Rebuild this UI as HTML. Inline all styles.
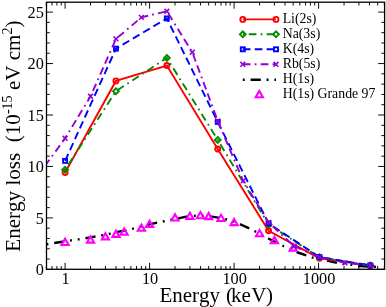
<!DOCTYPE html><html><head><meta charset="utf-8"><style>html,body{margin:0;padding:0;background:#fff}svg{will-change:transform;opacity:.999}text{font-kerning:none}body{width:386px;height:307px;overflow:hidden}</style></head><body><svg width="386" height="307" viewBox="0 0 386 307" style="display:block;font-family:'Liberation Serif',serif">
<rect width="386" height="307" fill="#fff"/>
<defs><clipPath id="c"><rect x="46.5" y="2.2" width="338.1" height="267.1"/></clipPath></defs>
<path d="M46.35 269.30v-3.3M46.35 2.20v3.3M52.01 269.30v-3.3M52.01 2.20v3.3M56.91 269.30v-3.3M56.91 2.20v3.3M61.23 269.30v-3.3M61.23 2.20v3.3M65.10 269.30v-6.5M65.10 2.20v6.5M90.54 269.30v-3.3M90.54 2.20v3.3M105.42 269.30v-3.3M105.42 2.20v3.3M115.97 269.30v-3.3M115.97 2.20v3.3M124.16 269.30v-3.3M124.16 2.20v3.3M130.85 269.30v-3.3M130.85 2.20v3.3M136.51 269.30v-3.3M136.51 2.20v3.3M141.41 269.30v-3.3M141.41 2.20v3.3M145.73 269.30v-3.3M145.73 2.20v3.3M149.60 269.30v-6.5M149.60 2.20v6.5M175.04 269.30v-3.3M175.04 2.20v3.3M189.92 269.30v-3.3M189.92 2.20v3.3M200.47 269.30v-3.3M200.47 2.20v3.3M208.66 269.30v-3.3M208.66 2.20v3.3M215.35 269.30v-3.3M215.35 2.20v3.3M221.01 269.30v-3.3M221.01 2.20v3.3M225.91 269.30v-3.3M225.91 2.20v3.3M230.23 269.30v-3.3M230.23 2.20v3.3M234.10 269.30v-6.5M234.10 2.20v6.5M259.54 269.30v-3.3M259.54 2.20v3.3M274.42 269.30v-3.3M274.42 2.20v3.3M284.97 269.30v-3.3M284.97 2.20v3.3M293.16 269.30v-3.3M293.16 2.20v3.3M299.85 269.30v-3.3M299.85 2.20v3.3M305.51 269.30v-3.3M305.51 2.20v3.3M310.41 269.30v-3.3M310.41 2.20v3.3M314.73 269.30v-3.3M314.73 2.20v3.3M318.60 269.30v-6.5M318.60 2.20v6.5M344.04 269.30v-3.3M344.04 2.20v3.3M358.92 269.30v-3.3M358.92 2.20v3.3M369.47 269.30v-3.3M369.47 2.20v3.3M377.66 269.30v-3.3M377.66 2.20v3.3M384.35 269.30v-3.3M384.35 2.20v3.3M46.50 269.35h6.5M384.65 269.35h-6.5M46.50 259.06h3.3M384.65 259.06h-3.3M46.50 248.77h3.3M384.65 248.77h-3.3M46.50 238.48h3.3M384.65 238.48h-3.3M46.50 228.19h3.3M384.65 228.19h-3.3M46.50 217.90h6.5M384.65 217.90h-6.5M46.50 207.61h3.3M384.65 207.61h-3.3M46.50 197.32h3.3M384.65 197.32h-3.3M46.50 187.03h3.3M384.65 187.03h-3.3M46.50 176.74h3.3M384.65 176.74h-3.3M46.50 166.45h6.5M384.65 166.45h-6.5M46.50 156.16h3.3M384.65 156.16h-3.3M46.50 145.87h3.3M384.65 145.87h-3.3M46.50 135.58h3.3M384.65 135.58h-3.3M46.50 125.29h3.3M384.65 125.29h-3.3M46.50 115.00h6.5M384.65 115.00h-6.5M46.50 104.71h3.3M384.65 104.71h-3.3M46.50 94.42h3.3M384.65 94.42h-3.3M46.50 84.13h3.3M384.65 84.13h-3.3M46.50 73.84h3.3M384.65 73.84h-3.3M46.50 63.55h6.5M384.65 63.55h-6.5M46.50 53.26h3.3M384.65 53.26h-3.3M46.50 42.97h3.3M384.65 42.97h-3.3M46.50 32.68h3.3M384.65 32.68h-3.3M46.50 22.39h3.3M384.65 22.39h-3.3M46.50 12.10h6.5M384.65 12.10h-6.5" stroke="#000" stroke-width="0.95" fill="none"/>
<g clip-path="url(#c)">
<path d="M46.50 244.31 L54.30 242.98 L65.10 241.44 L70.99 240.41 L78.81 239.39 L85.49 238.26 L90.54 237.44 L105.42 234.68 L110.33 233.65 L118.88 231.70 L124.16 230.57 L132.88 228.63 L141.41 226.47 L149.60 224.43 L157.11 222.68 L163.99 221.25 L171.17 219.61 L179.36 218.07 L186.32 216.63 L195.36 215.81 L202.26 215.81 L211.83 216.63 L218.12 217.66 L227.00 219.50 L234.10 221.86 L240.39 224.43 L249.80 228.63 L255.67 231.60 L268.88 238.78 L283.67 246.26 L297.78 252.51 L306.34 255.28 L312.98 257.70 L318.60 258.97 L328.28 260.81 L337.18 262.90 L351.89 264.91 L359.68 266.04 L369.47 266.76 L378.39 266.86" stroke="#000" stroke-width="2.4" fill="none" stroke-dasharray="1.9 5.9 10.2 5.8 1.9 5.9" stroke-dashoffset="0"/>
<path d="M65.10 238.72L68.70 244.95L61.50 244.95Z" fill="none" stroke="#ff00ff" stroke-width="2.1"/>
<path d="M90.54 236.36L94.14 242.60L86.94 242.60Z" fill="none" stroke="#ff00ff" stroke-width="2.1"/>
<path d="M105.42 233.18L109.02 239.42L101.82 239.42Z" fill="none" stroke="#ff00ff" stroke-width="2.1"/>
<path d="M115.97 230.62L119.57 236.86L112.37 236.86Z" fill="none" stroke="#ff00ff" stroke-width="2.1"/>
<path d="M124.16 228.47L127.76 234.70L120.56 234.70Z" fill="none" stroke="#ff00ff" stroke-width="2.1"/>
<path d="M141.41 224.57L145.01 230.81L137.81 230.81Z" fill="none" stroke="#ff00ff" stroke-width="2.1"/>
<path d="M149.60 220.68L153.20 226.91L146.00 226.91Z" fill="none" stroke="#ff00ff" stroke-width="2.1"/>
<path d="M175.04 214.22L178.64 220.46L171.44 220.46Z" fill="none" stroke="#ff00ff" stroke-width="2.1"/>
<path d="M189.92 212.68L193.52 218.92L186.32 218.92Z" fill="none" stroke="#ff00ff" stroke-width="2.1"/>
<path d="M200.47 212.07L204.07 218.30L196.87 218.30Z" fill="none" stroke="#ff00ff" stroke-width="2.1"/>
<path d="M208.66 212.89L212.26 219.12L205.06 219.12Z" fill="none" stroke="#ff00ff" stroke-width="2.1"/>
<path d="M221.01 214.73L224.61 220.97L217.41 220.97Z" fill="none" stroke="#ff00ff" stroke-width="2.1"/>
<path d="M234.10 218.94L237.70 225.17L230.50 225.17Z" fill="none" stroke="#ff00ff" stroke-width="2.1"/>
<path d="M259.54 230.01L263.14 236.24L255.94 236.24Z" fill="none" stroke="#ff00ff" stroke-width="2.1"/>
<path d="M274.42 236.87L278.02 243.11L270.82 243.11Z" fill="none" stroke="#ff00ff" stroke-width="2.1"/>
<path d="M293.16 244.36L296.76 250.59L289.56 250.59Z" fill="none" stroke="#ff00ff" stroke-width="2.1"/>
<path d="M65.10 172.46 L115.97 80.92 L166.85 65.55 L217.72 148.99 L268.60 230.78 L319.47 258.25 L370.34 265.63" stroke="#ff0000" stroke-width="1.9" fill="none" />
<circle cx="65.10" cy="172.46" r="2.5" fill="none" stroke="#ff0000" stroke-width="1.9"/>
<circle cx="115.97" cy="80.92" r="2.5" fill="none" stroke="#ff0000" stroke-width="1.9"/>
<circle cx="166.85" cy="65.55" r="2.5" fill="none" stroke="#ff0000" stroke-width="1.9"/>
<circle cx="217.72" cy="148.99" r="2.5" fill="none" stroke="#ff0000" stroke-width="1.9"/>
<circle cx="268.60" cy="230.78" r="2.5" fill="none" stroke="#ff0000" stroke-width="1.9"/>
<circle cx="319.47" cy="258.25" r="2.5" fill="none" stroke="#ff0000" stroke-width="1.9"/>
<circle cx="370.34" cy="265.63" r="2.5" fill="none" stroke="#ff0000" stroke-width="1.9"/>
<path d="M65.10 169.79 L115.97 91.17 L166.85 57.86 L217.72 139.86 L268.60 224.43 L319.47 257.23 L370.34 265.43" stroke="#008b00" stroke-width="1.9" fill="none" stroke-dasharray="1.74 4.22 7.69 4.22" stroke-dashoffset="0.00"/>
<path d="M65.10 166.94l2.9 2.9l-2.9 2.9l-2.9 -2.9z" fill="none" stroke="#008b00" stroke-width="1.9"/>
<path d="M115.97 88.32l2.9 2.9l-2.9 2.9l-2.9 -2.9z" fill="none" stroke="#008b00" stroke-width="1.9"/>
<path d="M166.85 55.01l2.9 2.9l-2.9 2.9l-2.9 -2.9z" fill="none" stroke="#008b00" stroke-width="1.9"/>
<path d="M217.72 137.01l2.9 2.9l-2.9 2.9l-2.9 -2.9z" fill="none" stroke="#008b00" stroke-width="1.9"/>
<path d="M268.60 221.58l2.9 2.9l-2.9 2.9l-2.9 -2.9z" fill="none" stroke="#008b00" stroke-width="1.9"/>
<path d="M319.47 254.38l2.9 2.9l-2.9 2.9l-2.9 -2.9z" fill="none" stroke="#008b00" stroke-width="1.9"/>
<path d="M370.34 262.57l2.9 2.9l-2.9 2.9l-2.9 -2.9z" fill="none" stroke="#008b00" stroke-width="1.9"/>
<path d="M65.10 160.88 L115.97 48.64 L166.85 18.40 L217.72 121.92 L268.60 223.40 L319.47 257.02 L370.34 265.43" stroke="#0000ff" stroke-width="1.9" fill="none" stroke-dasharray="7.69 4.22" stroke-dashoffset="0.00"/>
<rect x="63.10" y="158.88" width="4.00" height="4.00" fill="none" stroke="#0000ff" stroke-width="1.9"/>
<rect x="113.97" y="46.64" width="4.00" height="4.00" fill="none" stroke="#0000ff" stroke-width="1.9"/>
<rect x="164.85" y="16.40" width="4.00" height="4.00" fill="none" stroke="#0000ff" stroke-width="1.9"/>
<rect x="215.72" y="119.92" width="4.00" height="4.00" fill="none" stroke="#0000ff" stroke-width="1.9"/>
<rect x="266.60" y="221.40" width="4.00" height="4.00" fill="none" stroke="#0000ff" stroke-width="1.9"/>
<rect x="317.47" y="255.02" width="4.00" height="4.00" fill="none" stroke="#0000ff" stroke-width="1.9"/>
<rect x="368.34" y="263.43" width="4.00" height="4.00" fill="none" stroke="#0000ff" stroke-width="1.9"/>
<path d="M39.66 173.18 L65.10 138.33 L90.54 96.30 L115.97 38.90 L141.41 17.38 L166.85 11.22 L192.29 52.22 L217.72 120.90 L243.16 180.86 L268.60 222.38 L294.03 246.26 L319.47 257.02 L344.91 262.86 L370.34 265.43" stroke="#9400d3" stroke-width="1.9" fill="none" stroke-dasharray="7.69 4.22 1.74 4.22 7.69 4.22" stroke-dashoffset="20.90"/>
<path d="M37.26 170.78l4.8 4.8m0 -4.8l-4.8 4.8" fill="none" stroke="#9400d3" stroke-width="1.6"/>
<path d="M62.70 135.93l4.8 4.8m0 -4.8l-4.8 4.8" fill="none" stroke="#9400d3" stroke-width="1.6"/>
<path d="M88.14 93.90l4.8 4.8m0 -4.8l-4.8 4.8" fill="none" stroke="#9400d3" stroke-width="1.6"/>
<path d="M113.57 36.50l4.8 4.8m0 -4.8l-4.8 4.8" fill="none" stroke="#9400d3" stroke-width="1.6"/>
<path d="M139.01 14.97l4.8 4.8m0 -4.8l-4.8 4.8" fill="none" stroke="#9400d3" stroke-width="1.6"/>
<path d="M164.45 8.82l4.8 4.8m0 -4.8l-4.8 4.8" fill="none" stroke="#9400d3" stroke-width="1.6"/>
<path d="M189.89 49.82l4.8 4.8m0 -4.8l-4.8 4.8" fill="none" stroke="#9400d3" stroke-width="1.6"/>
<path d="M215.32 118.50l4.8 4.8m0 -4.8l-4.8 4.8" fill="none" stroke="#9400d3" stroke-width="1.6"/>
<path d="M240.76 178.46l4.8 4.8m0 -4.8l-4.8 4.8" fill="none" stroke="#9400d3" stroke-width="1.6"/>
<path d="M266.20 219.97l4.8 4.8m0 -4.8l-4.8 4.8" fill="none" stroke="#9400d3" stroke-width="1.6"/>
<path d="M291.63 243.86l4.8 4.8m0 -4.8l-4.8 4.8" fill="none" stroke="#9400d3" stroke-width="1.6"/>
<path d="M317.07 254.62l4.8 4.8m0 -4.8l-4.8 4.8" fill="none" stroke="#9400d3" stroke-width="1.6"/>
<path d="M342.51 260.46l4.8 4.8m0 -4.8l-4.8 4.8" fill="none" stroke="#9400d3" stroke-width="1.6"/>
<path d="M367.94 263.03l4.8 4.8m0 -4.8l-4.8 4.8" fill="none" stroke="#9400d3" stroke-width="1.6"/>
</g>
<rect x="46.5" y="2.2" width="338.1" height="267.1" fill="none" stroke="#000" stroke-width="1.3"/>
<text x="43.8" y="275.1" font-size="16.3" text-anchor="end">0</text>
<text x="43.8" y="223.6" font-size="16.3" text-anchor="end">5</text>
<text x="43.8" y="172.2" font-size="16.3" text-anchor="end">10</text>
<text x="43.8" y="120.7" font-size="16.3" text-anchor="end">15</text>
<text x="43.8" y="69.3" font-size="16.3" text-anchor="end">20</text>
<text x="43.8" y="17.8" font-size="16.3" text-anchor="end">25</text>
<text x="65.6" y="284.2" font-size="16.3" text-anchor="middle">1</text>
<text x="150.1" y="284.2" font-size="16.3" text-anchor="middle">10</text>
<text x="234.6" y="284.2" font-size="16.3" text-anchor="middle">100</text>
<text x="319.1" y="284.2" font-size="16.3" text-anchor="middle">1000</text>
<text id="xl" x="159.4" y="301.5" font-size="21">Energy <tspan dx="0.6">(</tspan><tspan dx="-1.8">ke</tspan><tspan dx="0.4">V</tspan><tspan dx="-0.6">)</tspan></text>
<text id="yl" transform="translate(20 136.1) rotate(-90)" font-size="21.1" text-anchor="middle" xml:space="preserve">Energy loss  (10<tspan font-size="14" dy="-8">-15</tspan><tspan dy="8"> eV cm</tspan><tspan font-size="14" dy="-8">2</tspan><tspan dy="8">)</tspan></text>
<path d="M242.8 19.4H276.0" stroke="#ff0000" stroke-width="1.9" />
<circle cx="242.80" cy="19.40" r="2.5" fill="none" stroke="#ff0000" stroke-width="1.9"/>
<circle cx="276.00" cy="19.40" r="2.5" fill="none" stroke="#ff0000" stroke-width="1.9"/>
<path d="M242.8 34.3H276.0" stroke="#008b00" stroke-width="1.9" stroke-dasharray="1.74 4.22 7.69 4.22"/>
<path d="M242.80 31.45l2.9 2.9l-2.9 2.9l-2.9 -2.9z" fill="none" stroke="#008b00" stroke-width="1.9"/>
<path d="M276.00 31.45l2.9 2.9l-2.9 2.9l-2.9 -2.9z" fill="none" stroke="#008b00" stroke-width="1.9"/>
<path d="M242.8 49.3H276.0" stroke="#0000ff" stroke-width="1.9" stroke-dasharray="7.69 4.22"/>
<rect x="240.80" y="47.30" width="4.00" height="4.00" fill="none" stroke="#0000ff" stroke-width="1.9"/>
<rect x="274.00" y="47.30" width="4.00" height="4.00" fill="none" stroke="#0000ff" stroke-width="1.9"/>
<path d="M242.8 64.3H276.0" stroke="#9400d3" stroke-width="1.9" stroke-dasharray="7.69 4.22 1.74 4.22 7.69 4.22"/>
<path d="M240.40 61.90l4.8 4.8m0 -4.8l-4.8 4.8" fill="none" stroke="#9400d3" stroke-width="1.6"/>
<path d="M273.60 61.90l4.8 4.8m0 -4.8l-4.8 4.8" fill="none" stroke="#9400d3" stroke-width="1.6"/>
<path d="M242.8 79.7H276.0" stroke="#000" stroke-width="2.4" stroke-dasharray="1.9 5.9 10.2 5.8 1.9 5.9"/>
<path d="M259.30 90.94L262.90 97.18L255.70 97.18Z" fill="none" stroke="#ff00ff" stroke-width="2.1"/>
<text x="282.7" y="22.8" font-size="13.8">Li(2s)</text>
<text x="282.7" y="37.7" font-size="13.8">Na(3s)</text>
<text x="282.7" y="52.7" font-size="13.8">K(4s)</text>
<text x="282.7" y="67.7" font-size="13.8">Rb(5s)</text>
<text x="282.7" y="82.7" font-size="13.8">H(1s)</text>
<text x="282.7" y="97.9" font-size="13.8">H(1s) Grande 97</text>
</svg></body></html>
